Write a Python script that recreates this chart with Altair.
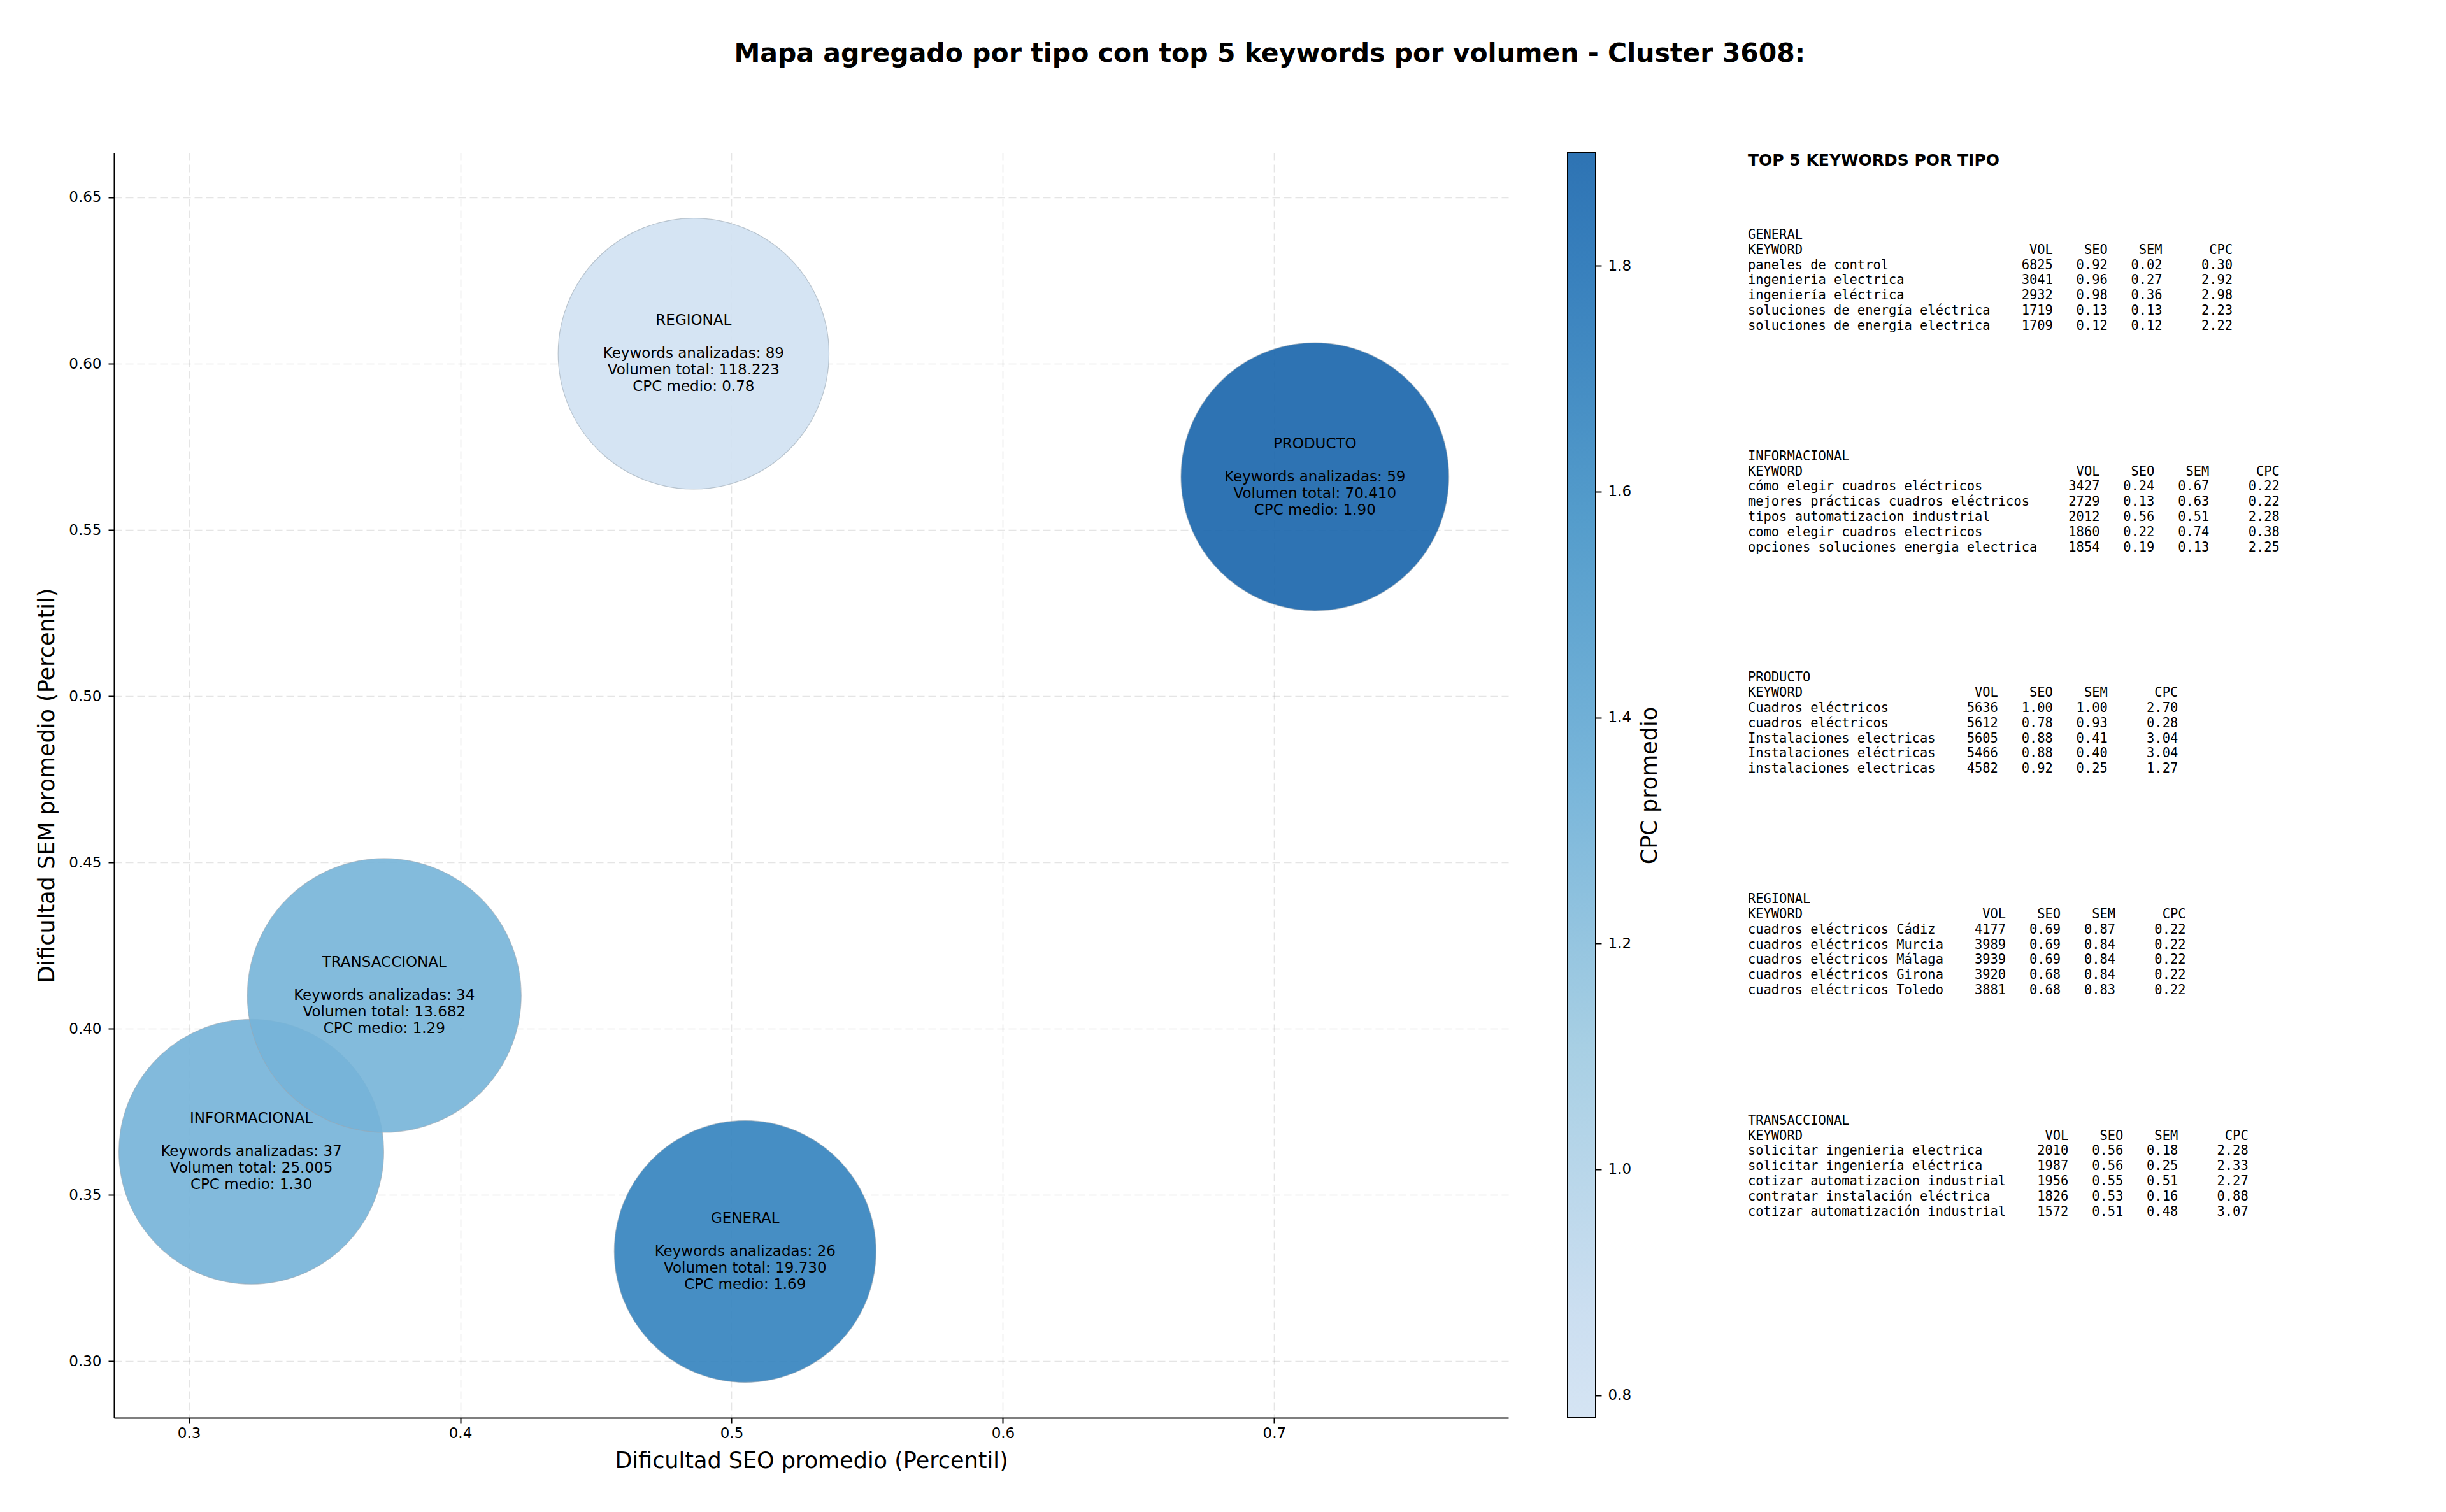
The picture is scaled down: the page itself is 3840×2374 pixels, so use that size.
import altair as alt
import pandas as pd

# ---------------- data ----------------
tipos = ["GENERAL", "INFORMACIONAL", "PRODUCTO", "REGIONAL", "TRANSACCIONAL"]
seo_promedio = [0.505, 0.323, 0.715, 0.486, 0.372]
sem_promedio = [0.333, 0.363, 0.566, 0.603, 0.410]
cpc_medio = [1.69, 1.30, 1.90, 0.78, 1.29]
keywords_analizadas = [26, 37, 59, 89, 34]
volumen_total = [19730, 25005, 70410, 118223, 13682]

gen_kw = ["paneles de control", "ingenieria electrica", "ingeniería eléctrica",
          "soluciones de energía eléctrica", "soluciones de energia electrica"]
gen_vol = [6825, 3041, 2932, 1719, 1709]
gen_seo = [0.92, 0.96, 0.98, 0.13, 0.12]
gen_sem = [0.02, 0.27, 0.36, 0.13, 0.12]
gen_cpc = [0.30, 2.92, 2.98, 2.23, 2.22]

inf_kw = ["cómo elegir cuadros eléctricos", "mejores prácticas cuadros eléctricos",
          "tipos automatizacion industrial", "como elegir cuadros electricos",
          "opciones soluciones energia electrica"]
inf_vol = [3427, 2729, 2012, 1860, 1854]
inf_seo = [0.24, 0.13, 0.56, 0.22, 0.19]
inf_sem = [0.67, 0.63, 0.51, 0.74, 0.13]
inf_cpc = [0.22, 0.22, 2.28, 0.38, 2.25]

pro_kw = ["Cuadros eléctricos", "cuadros eléctricos", "Instalaciones electricas",
          "Instalaciones eléctricas", "instalaciones electricas"]
pro_vol = [5636, 5612, 5605, 5466, 4582]
pro_seo = [1.00, 0.78, 0.88, 0.88, 0.92]
pro_sem = [1.00, 0.93, 0.41, 0.40, 0.25]
pro_cpc = [2.70, 0.28, 3.04, 3.04, 1.27]

reg_kw = ["cuadros eléctricos Cádiz", "cuadros eléctricos Murcia", "cuadros eléctricos Málaga",
          "cuadros eléctricos Girona", "cuadros eléctricos Toledo"]
reg_vol = [4177, 3989, 3939, 3920, 3881]
reg_seo = [0.69, 0.69, 0.69, 0.68, 0.68]
reg_sem = [0.87, 0.84, 0.84, 0.84, 0.83]
reg_cpc = [0.22, 0.22, 0.22, 0.22, 0.22]

tra_kw = ["solicitar ingenieria electrica", "solicitar ingeniería eléctrica",
          "cotizar automatizacion industrial", "contratar instalación eléctrica",
          "cotizar automatización industrial"]
tra_vol = [2010, 1987, 1956, 1826, 1572]
tra_seo = [0.56, 0.56, 0.55, 0.53, 0.51]
tra_sem = [0.18, 0.25, 0.51, 0.16, 0.48]
tra_cpc = [2.28, 2.33, 2.27, 0.88, 3.07]

# ---------------- styles / layout ----------------
FONT = "DejaVu Sans"
MONO = "DejaVu Sans Mono"
PLOT_W, PLOT_H = 2189, 1986
LABEL_LH = 26
bubble_diameter_px = [411, 430, 452, 443, 379]   # marker diameters per tipo
bubble_area = [d * d for d in bubble_diameter_px]  # Vega symbol size = diameter^2

lo, hi = min(cpc_medio), max(cpc_medio)
# truncated "Blues" colormap (0.2 .. 0.8)
cmap_t = [0.2, 0.25, 0.375, 0.5, 0.625, 0.75, 0.8]
cmap_colors = ["#d0e1f2", "#c6dbef", "#9ecae1", "#6baed6", "#4292c6", "#2171b5", "#1764ab"]
cmap_domain = [lo + (t - 0.2) / 0.6 * (hi - lo) for t in cmap_t]
cmap_offsets = [(t - 0.2) / 0.6 for t in cmap_t]

# ---------------- main bubble chart ----------------
def fmt_vol(v):
    return f"{v:,}".replace(",", ".")

df = pd.DataFrame({
    "tipo": tipos,
    "seo": seo_promedio,
    "sem": sem_promedio,
    "cpc": cpc_medio,
    "n": keywords_analizadas,
    "vol": volumen_total,
})
df["idx"] = range(len(df))
df["stats"] = [
    f"Keywords analizadas: {n}\nVolumen total: {fmt_vol(v)}\nCPC medio: {c:.2f}"
    for n, v, c in zip(keywords_analizadas, volumen_total, cpc_medio)
]

x_enc = alt.X("seo:Q",
              scale=alt.Scale(domain=[0.2724, 0.7863], nice=False, zero=False),
              axis=alt.Axis(values=[0.3, 0.4, 0.5, 0.6, 0.7], format=".1f",
                            title="Dificultad SEO promedio (Percentil)",
                            labelPadding=4, titlePadding=14))
y_enc = alt.Y("sem:Q",
              scale=alt.Scale(domain=[0.283, 0.6634], nice=False, zero=False),
              axis=alt.Axis(values=[0.30, 0.35, 0.40, 0.45, 0.50, 0.55, 0.60, 0.65], format=".2f",
                            title="Dificultad SEM promedio (Percentil)",
                            labelPadding=11, titlePadding=16))

bubbles = alt.Chart(df).mark_circle(
    opacity=1, fillOpacity=0.9, stroke="#9aa6b2", strokeWidth=1.2, strokeOpacity=0.6, clip=True
).encode(
    x=x_enc, y=y_enc,
    color=alt.Color("cpc:Q", scale=alt.Scale(domain=cmap_domain, range=cmap_colors, interpolate="rgb"),
                    legend=None),
    size=alt.Size("tipo:N", scale=alt.Scale(domain=tipos, range=bubble_area), legend=None),
    order=alt.Order("idx:Q"),
)

name_labels = alt.Chart(df).mark_text(
    fontSize=23, font=FONT, color="black", baseline="middle", align="center", dy=-2 * LABEL_LH
).encode(x=x_enc, y=y_enc, text="tipo:N")

stat_labels = alt.Chart(df).mark_text(
    lineBreak="\n", fontSize=23, lineHeight=LABEL_LH, font=FONT, color="black",
    baseline="middle", align="center"
).encode(x=x_enc, y=y_enc, text="stats:N")

axis_style = dict(domainColor="black", domainWidth=2, tickColor="black", tickWidth=2, tickSize=9,
                  labelFont=FONT, labelFontSize=23, labelColor="black",
                  titleFont=FONT, titleFontSize=35, titleFontWeight="normal", titleColor="black",
                  gridColor="#a0a0a0", gridOpacity=0.28, gridDash=[12, 6], gridWidth=1.6, zindex=1)

main = alt.layer(bubbles, name_labels, stat_labels).properties(width=PLOT_W, height=PLOT_H)

# ---------------- colorbar ----------------
cb_df = pd.DataFrame({"lo": [lo], "hi": [hi]})
gradient = alt.Gradient(
    gradient="linear",
    stops=[alt.GradientStop(color=c, offset=o) for c, o in zip(cmap_colors, cmap_offsets)],
    x1=0, x2=0, y1=1, y2=0,
)
cbar = alt.Chart(cb_df).mark_rect(
    fill=gradient, fillOpacity=0.9, stroke="black", strokeWidth=2
).encode(
    x=alt.value(0), x2=alt.value("width"),
    y=alt.Y("lo:Q", scale=alt.Scale(domain=[lo, hi], nice=False, zero=False),
            axis=alt.Axis(orient="right", values=[0.8, 1.0, 1.2, 1.4, 1.6, 1.8], format=".1f",
                          title="CPC promedio", titleAngle=270, titleBaseline="top",
                          grid=False, domain=False, labelPadding=10, titlePadding=12,
                          tickColor="black", tickWidth=2, tickSize=9,
                          labelFont=FONT, labelFontSize=23, labelColor="black",
                          titleFont=FONT, titleFontSize=35, titleFontWeight="normal",
                          titleColor="black")),
    y2="hi:Q",
).properties(width=44, height=PLOT_H)

# ---------------- text panel ----------------
sections = [
    ("GENERAL", gen_kw, gen_vol, gen_seo, gen_sem, gen_cpc),
    ("INFORMACIONAL", inf_kw, inf_vol, inf_seo, inf_sem, inf_cpc),
    ("PRODUCTO", pro_kw, pro_vol, pro_seo, pro_sem, pro_cpc),
    ("REGIONAL", reg_kw, reg_vol, reg_seo, reg_sem, reg_cpc),
    ("TRANSACCIONAL", tra_kw, tra_vol, tra_seo, tra_sem, tra_cpc),
]
LINE_PX = 23.8
ROWS_TOTAL = PLOT_H / LINE_PX
HEAD_ROW = 12 / LINE_PX
FIRST_ROW = 129 / LINE_PX
SECTION_STEP = 347.7 / LINE_PX

rows, lines = [], []
for si, (name, kws, vols, seos, sems, cpcs) in enumerate(sections):
    w = max(len(k) for k in kws)
    block = [name,
             f"{'KEYWORD':<{w}}{'VOL':>8}{'SEO':>7}{'SEM':>7}{'CPC':>9}"]
    for k, v, s1, s2, c in zip(kws, vols, seos, sems, cpcs):
        block.append(f"{k:<{w}}{v:>8}{s1:>7.2f}{s2:>7.2f}{c:>9.2f}")
    base_row = FIRST_ROW + si * SECTION_STEP
    for li, txt in enumerate(block):
        rows.append(base_row + li)
        lines.append(txt.replace(" ", "\u00a0"))

panel_df = pd.DataFrame({"row": rows, "line": lines})
head_df = pd.DataFrame({"row": [HEAD_ROW], "line": ["TOP 5 KEYWORDS POR TIPO"]})

row_scale = alt.Scale(domain=[0, ROWS_TOTAL], reverse=True, nice=False, zero=False)

panel_lines = alt.Chart(panel_df).mark_text(
    align="left", baseline="middle", font=MONO, fontSize=20.4, color="black"
).encode(x=alt.value(0), y=alt.Y("row:Q", scale=row_scale, axis=None), text="line:N")

panel_head = alt.Chart(head_df).mark_text(
    align="left", baseline="middle", font=FONT, fontSize=25, fontWeight="bold", color="black"
).encode(x=alt.value(0), y=alt.Y("row:Q", scale=row_scale, axis=None), text="line:N")

panel = alt.layer(panel_head, panel_lines).properties(width=860, height=PLOT_H)

# ---------------- assemble ----------------
right = alt.hconcat(cbar, panel, spacing=136)
chart = alt.hconcat(main, right, spacing=92).properties(
    title=alt.TitleParams(
        text="Mapa agregado por tipo con top 5 keywords por volumen - Cluster 3608:",
        font=FONT, fontSize=41, fontWeight="bold", color="black",
        anchor="middle", dx=163, offset=133,
    ),
    padding={"left": 56, "top": 64, "right": 10, "bottom": 10},
    background="white",
).configure_view(stroke=None).configure_axis(**axis_style)

chart.save("out.html", embed_options={"renderer": "svg", "actions": False})
